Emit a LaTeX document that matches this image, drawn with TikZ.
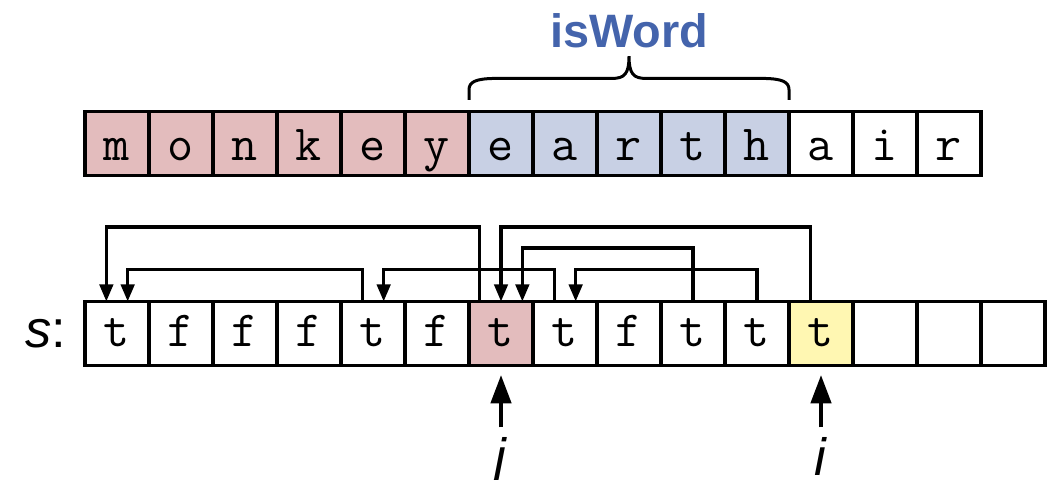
\documentclass[tikz,border=0pt]{standalone}
\usepackage{fontspec}
\setsansfont{Liberation Sans}
\usepackage{tikz}
\usetikzlibrary{arrows.meta, positioning, calc}

\definecolor{wordpink}{RGB}{227,188,189}
\definecolor{wordblue}{RGB}{200,208,228}
\definecolor{curyellow}{RGB}{255,247,178}
\definecolor{labelblue}{RGB}{68,100,172}

\begin{document}
\begin{tikzpicture}[
  cell/.style={draw, line width=1.8pt, minimum size=1.2cm,
    inner sep=0pt, outer sep=0pt,
    font=\fontsize{27}{30}\selectfont\ttfamily},
  letter/.style={cell, text height=0.8cm, text depth=0.16cm},
  flag/.style={cell, text height=0.7cm, text depth=0.2cm},
  link/.style={-{Triangle[length=0.32cm, width=0.25cm]}, line width=1.8pt},
  pointer/.style={-{Triangle[length=0.53cm, width=0.38cm]}, line width=2pt,
    shorten <=0.18cm, shorten >=0.18cm},
  bracket/.style={line width=1.6pt},
  varlbl/.style={inner sep=0pt, font=\fontsize{28}{32}\selectfont\sffamily},
  wordlbl/.style={inner sep=0pt, text=labelblue,
    font=\fontsize{25}{30}\selectfont\sffamily\bfseries}
]
\useasboundingbox (0,0) rectangle (19.744,9.0);

%% ── Word ──
\foreach \ch/\fc [count=\k from 0] in {m/wordpink, o/wordpink, n/wordpink,
    k/wordpink, e/wordpink, y/wordpink, e/wordblue, a/wordblue, r/wordblue,
    t/wordblue, h/wordblue, a/white, i/white, r/white}
  \node[letter, fill=\fc] (w\k) at (2.194+1.2*\k, 6.309) {\ch};

%% ── Brace ──
\coordinate (bl) at ([yshift=0.22cm]w6.north west);
\coordinate (br) at ([yshift=0.22cm]w10.north east);
\coordinate (tip) at ($(bl)!0.5!(br)+(0,0.82)$);
\draw[bracket] (bl) -- ++(0,0.19)
  .. controls +(0,0.14) and +(-0.38,0) .. ++(0.5,0.21)
  -- ($(tip)+(-0.32,-0.42)$)
  .. controls +(0.24,0) and +(0,-0.33) .. (tip)
  .. controls +(0,-0.33) and +(-0.24,0) .. ++(0.32,-0.42)
  -- ($(br)+(-0.5,0.4)$)
  .. controls +(0.38,0) and +(0,0.14) .. ++(0.5,-0.21) -- (br);
\node[wordlbl, anchor=base] (isword) at ([yshift=0.16cm]tip) {isWord};

%% ── Table s ──
\foreach \ch/\fc [count=\k from 0] in {t/white, f/white, f/white, f/white,
    t/white, f/white, t/wordpink, t/white, f/white, t/white, t/white,
    t/curyellow, /white, /white, /white}
  \node[flag, fill=\fc] (s\k) at (2.194+1.2*\k, 2.747) {\ch};
\node[varlbl, anchor=base east] (slbl)
  at ([xshift=-0.34cm, yshift=-0.26cm]s0.west) {\textit{s}:};

%% ── Back links ──
\draw[link] ([xshift=0.2cm]s6.north west) -- ++(0,1.4) -| ([xshift=0.4cm]s0.north west);
\draw[link] ([xshift=0.4cm]s4.north west) -- ++(0,0.6) -| ([xshift=0.8cm]s0.north west);
\draw[link] ([xshift=0.4cm]s7.north west) -- ++(0,0.6) -| ([xshift=0.8cm]s4.north west);
\draw[link] (s9.north) -- ++(0,1.0) -| ([xshift=1.0cm]s6.north west);
\draw[link] (s10.north) -- ++(0,0.6) -| ([xshift=0.8cm]s7.north west);
\draw[link] ([xshift=0.4cm]s11.north west) -- ++(0,1.4) -| (s6.north);

%% ── Indices ──
\node[varlbl, anchor=base] (jlbl) at ([yshift=-2.06cm]s6.south) {\textit{j}};
\node[varlbl, anchor=base] (ilbl) at ([yshift=-2.06cm]s11.south) {\textit{i}};
\draw[pointer] (jlbl) -- (s6);
\draw[pointer] (ilbl) -- (s11);

\end{tikzpicture}
\end{document}
